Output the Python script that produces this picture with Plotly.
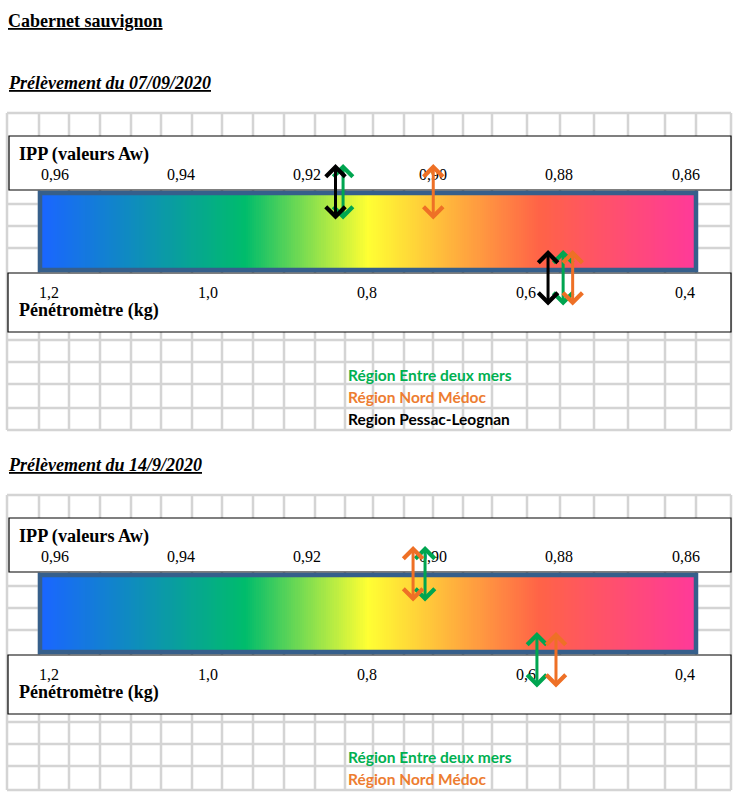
import numpy as np
import plotly.graph_objects as go

# ---------------- data ----------------
ipp_ticks = [0.96, 0.94, 0.92, 0.90, 0.88, 0.86]
ipp_tick_labels = ["0,96", "0,94", "0,92", "0,90", "0,88", "0,86"]
pen_ticks = [1.2, 1.0, 0.8, 0.6, 0.4]
pen_tick_labels = ["1,2", "1,0", "0,8", "0,6", "0,4"]

regions_1 = ["Région Entre deux mers", "Région Nord Médoc", "Region Pessac-Leognan"]
colors_1 = ["#00a550", "#ee7026", "#000000"]
ipp_1 = [0.9143, 0.9000, 0.9155]      # IPP (Aw) 07/09/2020
pen_1 = [0.553, 0.541, 0.572]         # Pénétromètre (kg) 07/09/2020

regions_2 = ["Région Entre deux mers", "Région Nord Médoc"]
colors_2 = ["#00a550", "#ee7026"]
ipp_2 = [0.9013, 0.9032]              # IPP (Aw) 14/9/2020
pen_2 = [0.586, 0.562]                # Pénétromètre (kg) 14/9/2020

legend_colors = {"Région Entre deux mers": "#00b050", "Région Nord Médoc": "#ed7d31",
                 "Region Pessac-Leognan": "#000000"}

# ---------------- layout constants (pixels) ----------------
W, H = 741, 801
SERIF = "Liberation Serif, Times New Roman, serif"
SANS = "Lato, Carlito, Calibri, sans-serif"
GRID = "#d4d4d4"
COLS = [7, 39, 69, 100, 131, 161, 192, 222, 253, 284, 315, 345, 373, 404, 433,
        463, 492, 527, 560, 594, 628, 665, 696, 731]
IPP_RANGE = [0.9687, 0.8512]
PEN_RANGE = [1.2622, 0.3290]
ramp = np.linspace(0, 1, 301)
colorscale = [[0.0, "#1a66ff"], [0.311, "#00bc6c"], [0.5, "#ffff33"],
              [0.764, "#ff6347"], [1.0, "#ff3a98"]]

fig = go.Figure()
shapes = []
annotations = []

panels = [
    dict(off=0, title="Prélèvement du 07/09/2020", regions=regions_1, colors=colors_1,
         ipp=ipp_1, pen=pen_1, rows=[113, 204, 226, 248, 340, 362, 384, 408, 430]),
    dict(off=382, title="Prélèvement du 14/9/2020", regions=regions_2, colors=colors_2,
         ipp=ipp_2, pen=pen_2, rows=[113, 204, 226, 248, 340, 362, 384, 408]),
]

annotations.append(dict(x=6, y=21, xref="x", yref="y", xanchor="left", yanchor="middle",
                        text="<b><u>Cabernet sauvignon</u></b>", showarrow=False,
                        font=dict(family=SERIF, size=18, color="black")))

ARROW = dict(text="", showarrow=True, arrowside="end+start", arrowhead=4, startarrowhead=4,
             arrowsize=1.25, startarrowsize=1.25, arrowwidth=3, standoff=0, startstandoff=0)

for p in panels:
    o = p["off"]
    top, bot = p["rows"][0] + o, p["rows"][-1] + o
    # grid
    for r in p["rows"]:
        shapes.append(dict(type="line", xref="x", yref="y", x0=COLS[0], x1=COLS[-1],
                           y0=r + o, y1=r + o, line=dict(color=GRID, width=2.5), layer="below"))
    for c in COLS:
        shapes.append(dict(type="line", xref="x", yref="y", x0=c, x1=c, y0=top, y1=bot,
                           line=dict(color=GRID, width=2.5), layer="below"))
    # boxes
    shapes.append(dict(type="rect", xref="x", yref="y", x0=9, x1=731, y0=136 + o, y1=190 + o,
                       fillcolor="white", line=dict(color="black", width=1.2), layer="below"))
    shapes.append(dict(type="rect", xref="x", yref="y", x0=8, x1=731, y0=273 + o, y1=332 + o,
                       fillcolor="white", line=dict(color="black", width=1.2), layer="below"))
    # gradient bar
    fig.add_trace(go.Heatmap(z=[ramp], x=np.linspace(42, 694, len(ramp) + 1),
                             y=[195 + o, 268 + o], colorscale=colorscale, zmin=0, zmax=1,
                             showscale=False, hoverinfo="skip", xaxis="x", yaxis="y"))
    shapes.append(dict(type="rect", xref="x", yref="y", x0=40, x1=696, y0=193 + o, y1=270 + o,
                       line=dict(color="#365f8b", width=4.5), layer="above"))
    # texts
    annotations.append(dict(x=6, y=83 + o, xref="x", yref="y", xanchor="left", yanchor="middle",
                            text="<b><i><u>" + p["title"] + "</u></i></b>", showarrow=False,
                            font=dict(family=SERIF, size=18, color="black")))
    annotations.append(dict(x=17, y=154 + o, xref="x", yref="y", xanchor="left", yanchor="middle",
                            text="<b>IPP (valeurs Aw)</b>", showarrow=False,
                            font=dict(family=SERIF, size=18.2, color="black")))
    annotations.append(dict(x=17, y=310 + o, xref="x", yref="y", xanchor="left", yanchor="middle",
                            text="<b>Pénétromètre (kg)</b>", showarrow=False,
                            font=dict(family=SERIF, size=18, color="black")))
    for v, t in zip(ipp_ticks, ipp_tick_labels):
        annotations.append(dict(x=v, y=174 + o, xref="x2", yref="y", xanchor="center",
                                yanchor="middle", text=t, showarrow=False,
                                font=dict(family=SERIF, size=16, color="black")))
    for v, t in zip(pen_ticks, pen_tick_labels):
        annotations.append(dict(x=v, y=292 + o, xref="x3", yref="y", xanchor="center",
                                yanchor="middle", text=t, showarrow=False,
                                font=dict(family=SERIF, size=16, color="black")))
    # legend
    for i, name in enumerate(p["regions"]):
        annotations.append(dict(x=346, y=375 + 22 * i + o, xref="x", yref="y", xanchor="left",
                                yanchor="middle", text="<b>" + name + "</b>", showarrow=False,
                                font=dict(family=SANS, size=15.5, color=legend_colors[name])))
    # arrows
    for v, col in zip(p["ipp"], p["colors"]):
        annotations.append(dict(x=v, y=164 + o, xref="x2", yref="y", ax=v, ay=221 + o,
                                axref="x2", ayref="y", arrowcolor=col, **ARROW))
    for v, col in zip(p["pen"], p["colors"]):
        annotations.append(dict(x=v, y=250 + o, xref="x3", yref="y", ax=v, ay=307 + o,
                                axref="x3", ayref="y", arrowcolor=col, **ARROW))
    # invisible carriers for the value axes
    fig.add_trace(go.Scatter(x=p["ipp"], y=[192 + o] * len(p["ipp"]), mode="markers",
                             marker=dict(opacity=0), hoverinfo="skip", showlegend=False,
                             xaxis="x2", yaxis="y"))
    fig.add_trace(go.Scatter(x=p["pen"], y=[278 + o] * len(p["pen"]), mode="markers",
                             marker=dict(opacity=0), hoverinfo="skip", showlegend=False,
                             xaxis="x3", yaxis="y"))

fig.update_layout(
    width=W, height=H, margin=dict(l=0, r=0, t=0, b=0),
    paper_bgcolor="white", plot_bgcolor="white", showlegend=False,
    xaxis=dict(range=[0, W], visible=False, fixedrange=True),
    yaxis=dict(range=[H, 0], visible=False, fixedrange=True),
    xaxis2=dict(range=IPP_RANGE, visible=False, overlaying="x", anchor="y", fixedrange=True),
    xaxis3=dict(range=PEN_RANGE, visible=False, overlaying="x", anchor="y", fixedrange=True),
    shapes=shapes, annotations=annotations,
)

fig.write_html("out.html", config={"displayModeBar": False},
               post_script="document.body.style.margin='0';")
